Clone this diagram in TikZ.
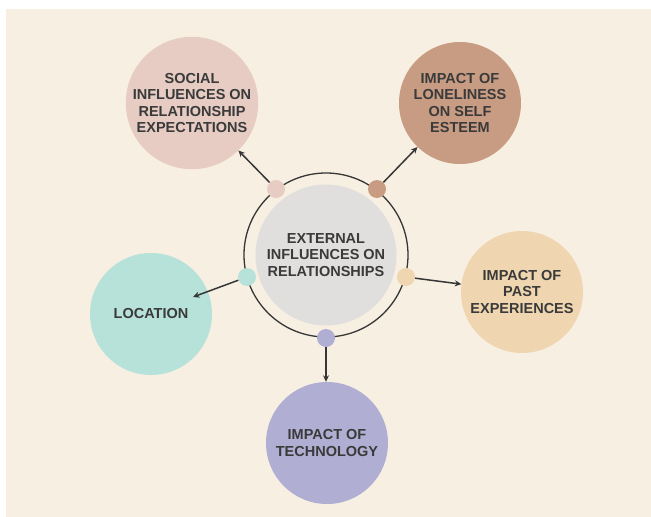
\documentclass[tikz,border=0pt]{standalone}
\usepackage{fontspec}
\setmainfont{Liberation Sans}
\usetikzlibrary{arrows.meta}
\definecolor{bgcream}{HTML}{F7EFE2}
\definecolor{cSocial}{HTML}{E6CCC3}
\definecolor{cLonely}{HTML}{C89C83}
\definecolor{cCentral}{HTML}{E0DFDD}
\definecolor{cLocation}{HTML}{B7E2DA}
\definecolor{cPast}{HTML}{F0D6B0}
\definecolor{cTech}{HTML}{B1AED3}
\definecolor{txt}{HTML}{3A3A3A}
\definecolor{linec}{HTML}{363636}
\begin{document}
\begin{tikzpicture}[x=1pt,y=-1pt,
  topic/.style={circle,minimum size=122pt,inner sep=0pt,align=center,
    font=\fontsize{14.5}{16.5}\selectfont\bfseries,text=txt},
  hub/.style={circle,minimum size=18pt,inner sep=0pt},
  arr/.style={draw=linec,line width=1.5pt,-{Stealth[length=6.5pt,width=6pt]}}]
\useasboundingbox (0,0) rectangle (651,517);
\fill[white] (0,0) rectangle (651,517);
\fill[bgcream] (6,9) rectangle (651,517);
% centre
\node[topic,fill=cCentral,minimum size=141pt] (c0) at (326,255) {EXTERNAL\\INFLUENCES ON\\RELATIONSHIPS};
\draw[linec,line width=1.3pt] (326,255) circle[radius=82pt];
% outer topics
\node[topic,fill=cSocial] (c1) at (192,103) {SOCIAL\\INFLUENCES ON\\RELATIONSHIP\\EXPECTATIONS};
\node[topic,fill=cLonely] (c2) at (460,103) {IMPACT OF\\LONELINESS\\ON SELF\\ESTEEM};
\node[topic,fill=cLocation] (c3) at (151,314) {LOCATION};
\node[topic,fill=cPast] (c4) at (522,292) {IMPACT OF\\PAST\\EXPERIENCES};
\node[topic,fill=cTech] (c5) at (327,443) {IMPACT OF\\TECHNOLOGY};
% hub dots
\node[hub,fill=cSocial] (d1) at (276,189) {};
\node[hub,fill=cLonely] (d2) at (377,189) {};
\node[hub,fill=cLocation] (d3) at (247,277) {};
\node[hub,fill=cPast] (d4) at (406,277) {};
\node[hub,fill=cTech] (d5) at (326,338) {};
% arrows
\coordinate (a3) at (193,297);
\draw[arr] (d1) -- (c1);
\draw[arr] (d2) -- (c2);
\draw[arr] (d3) -- (a3);
\draw[arr] (d4) -- (c4);
\draw[arr] (d5) -- (d5 |- c5.north);
\end{tikzpicture}
\end{document}
